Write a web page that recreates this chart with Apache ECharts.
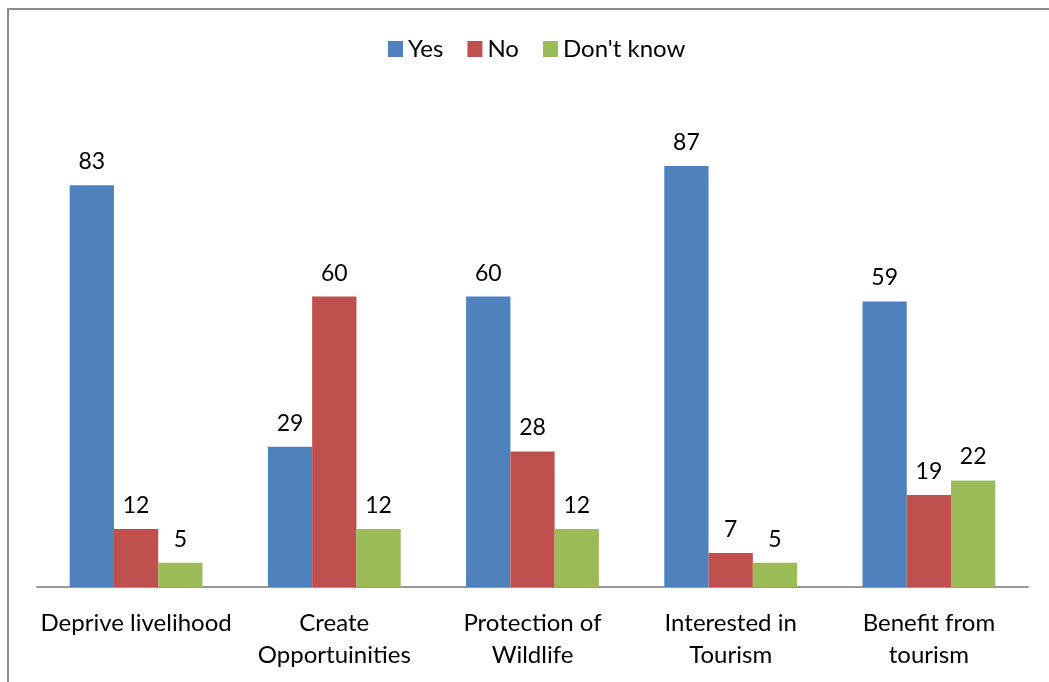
<!DOCTYPE html>
<html>
<head>
<meta charset="utf-8">
<script src="https://cdn.jsdelivr.net/npm/echarts@6/dist/echarts.min.js"></script>
<style>
  html, body { margin: 0; padding: 0; background: #fff; }
  #frame { position: absolute; left: 7px; top: 8px; width: 1060px; height: 700px; border: 2px solid #8c8c8c; box-sizing: border-box; }
  #main { position: absolute; left: 0; top: 0; width: 1049px; height: 682px; }
</style>
</head>
<body>
<div id="frame"></div>
<div id="main"></div>
<script>
// categories along the x axis
var categories = ['Deprive livelihood', 'Create\nOpportuinities', 'Protection of\nWildlife', 'Interested in\nTourism', 'Benefit from\ntourism'];
// series values
var yesValues = [83, 29, 60, 87, 59];
var noValues = [12, 60, 28, 7, 19];
var dontKnowValues = [5, 12, 12, 5, 22];

var fontName = 'Lato, "Open Sans", sans-serif';

function makeSeries(name, data, color) {
    return {
        name: name,
        type: 'bar',
        data: data,
        barGap: '0%',
        barCategoryGap: '33%',
        itemStyle: { color: color },
        label: {
            show: true,
            position: 'top',
            distance: 12,
            color: '#000',
            fontSize: 23,
            fontFamily: fontName
        }
    };
}

var myChart = echarts.init(document.getElementById('main'));
var option = {
    animation: false,
    legend: {
        top: 32,
        left: 383,
        itemWidth: 15,
        itemHeight: 16,
        itemGap: 24,
        icon: 'rect',
        textStyle: { fontSize: 24, color: '#000', fontFamily: fontName },
        data: ['Yes', 'No', "Don't know"]
    },
    grid: {
        left: 37,
        right: 21,
        top: 103,
        bottom: 95
    },
    xAxis: {
        type: 'category',
        data: categories,
        axisLine: { lineStyle: { color: '#999', width: 2 } },
        axisTick: { show: false },
        axisLabel: {
            margin: 20,
            color: '#000',
            fontSize: 24,
            lineHeight: 32,
            fontFamily: fontName,
            interval: 0
        }
    },
    yAxis: {
        type: 'value',
        min: 0,
        max: 100,
        show: false,
        splitLine: { show: false }
    },
    series: [
        makeSeries('Yes', yesValues, '#4F81BD'),
        makeSeries('No', noValues, '#C0504D'),
        makeSeries("Don't know", dontKnowValues, '#9BBB59')
    ]
};
myChart.setOption(option);
</script>
</body>
</html>
